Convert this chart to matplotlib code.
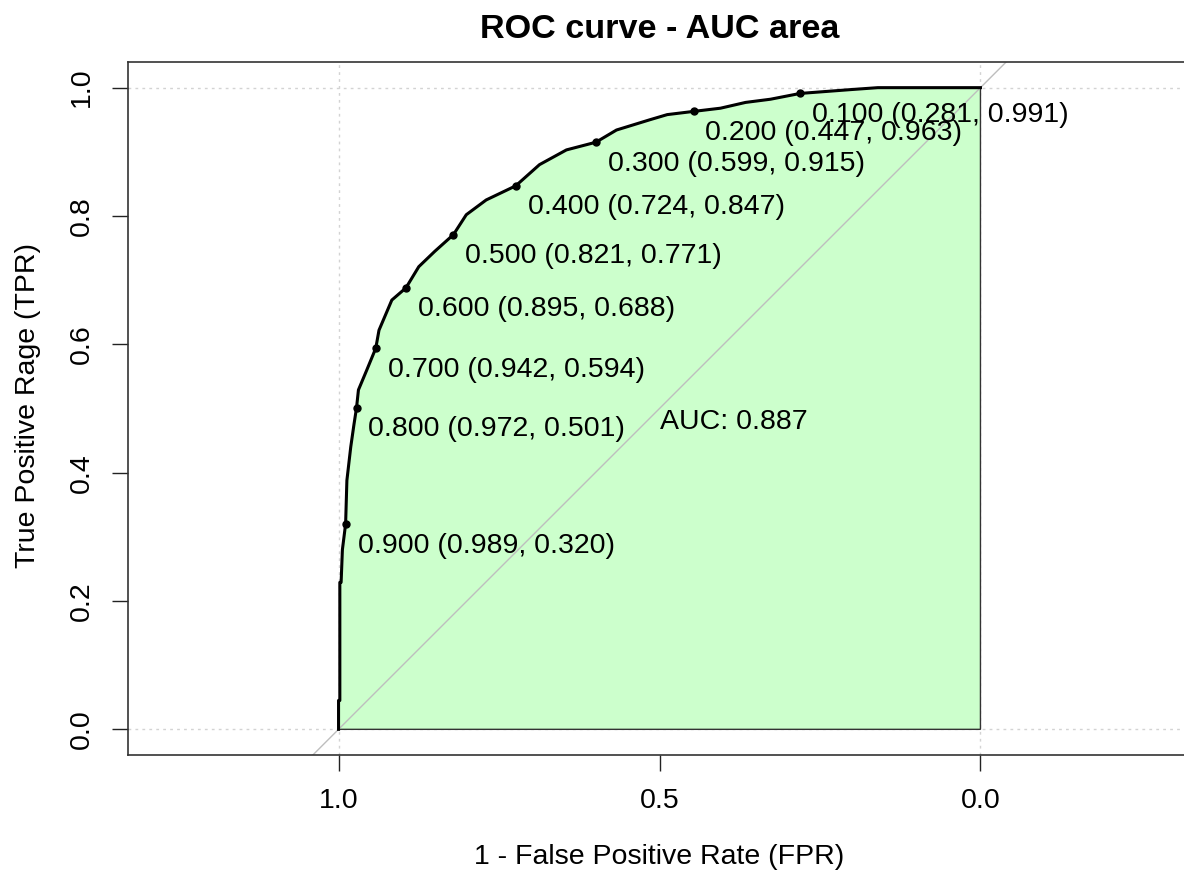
import matplotlib
matplotlib.use("Agg")
import matplotlib.pyplot as plt

plt.rcParams['font.family'] = ['Liberation Sans', 'DejaVu Sans']

# ROC curve (specificity, sensitivity)
curve_spec = [1.000, 1.000, 0.998, 0.998, 0.996, 0.994, 0.989, 0.987, 0.981, 0.976,
              0.972, 0.969, 0.956, 0.942, 0.937, 0.917, 0.895, 0.875, 0.850, 0.821,
              0.801, 0.770, 0.724, 0.687, 0.645, 0.599, 0.567, 0.515, 0.488, 0.447,
              0.405, 0.366, 0.327, 0.281, 0.202, 0.160, 0.000]
curve_sens = [0.000, 0.045, 0.045, 0.229, 0.229, 0.280, 0.320, 0.388, 0.440, 0.475,
              0.501, 0.529, 0.560, 0.594, 0.622, 0.669, 0.688, 0.721, 0.745, 0.771,
              0.802, 0.825, 0.847, 0.880, 0.903, 0.915, 0.934, 0.950, 0.958, 0.963,
              0.968, 0.977, 0.982, 0.991, 0.997, 1.000, 1.000]

# Printed thresholds
thresholds = [0.100, 0.200, 0.300, 0.400, 0.500, 0.600, 0.700, 0.800, 0.900]
thr_spec = [0.281, 0.447, 0.599, 0.724, 0.821, 0.895, 0.942, 0.972, 0.989]
thr_sens = [0.991, 0.963, 0.915, 0.847, 0.771, 0.688, 0.594, 0.501, 0.320]

auc_value = 0.887
x_ticks = [1.0, 0.5, 0.0]
x_ticklabels = ["1.0", "0.5", "0.0"]
y_ticks = [0.0, 0.2, 0.4, 0.6, 0.8, 1.0]
y_ticklabels = ["0.0", "0.2", "0.4", "0.6", "0.8", "1.0"]

W, H = 1184, 874
fig = plt.figure(figsize=(W / 100, H / 100), dpi=100)
ax = fig.add_axes([128 / W, 119 / H, 1063 / W, 693 / H])
ax.set_xlim(1.328, -0.328)
ax.set_ylim(-0.04, 1.04)

# grid
for g in [0.0, 1.0]:
    ax.axvline(g, color='#d3d3d3', lw=1, ls=(0, (2, 3)), zorder=0)
    ax.axhline(g, color='#d3d3d3', lw=1, ls=(0, (2, 3)), zorder=0)

# AUC polygon
poly_x = curve_spec + [0.0]
poly_y = curve_sens + [0.0]
ax.fill(poly_x, poly_y, facecolor='#ccffcc', edgecolor='#333333', lw=1, zorder=1)

# diagonal
ax.axline((1.0, 0.0), (0.0, 1.0), color='#bebebe', lw=1, zorder=2)

# curve
ax.plot(curve_spec, curve_sens, color='black', lw=2.2, zorder=3, solid_joinstyle='round')

# threshold points and labels
ax.plot(thr_spec, thr_sens, 'o', color='black', ms=5, zorder=4)
for t, sp, se in zip(thresholds, thr_spec, thr_sens):
    ax.annotate(f"{t:.3f} ({sp:.3f}, {se:.3f})", xy=(sp, se),
                xytext=(8.6, -15.5), textcoords='offset points',
                ha='left', va='center', fontsize=20.5, color='black', zorder=5)

ax.text(0.5, 0.5, f"AUC: {auc_value:.3f}", ha='left', va='top', fontsize=20.5,
        color='black', zorder=5)

ax.set_xticks(x_ticks)
ax.set_xticklabels(x_ticklabels)
ax.set_yticks(y_ticks)
ax.set_yticklabels(y_ticklabels, rotation=90, va='center')
ax.tick_params(axis='both', length=11.5, width=1, labelsize=20.5, colors='#222222',
               labelcolor='black')
ax.tick_params(axis='x', pad=12)
ax.tick_params(axis='y', pad=12)
for s in ax.spines.values():
    s.set_linewidth(1.2)
    s.set_color('#333333')

fig.text(659.5 / W, 1 - 30 / H, "ROC curve - AUC area", ha='center', va='center',
         fontsize=24.6, fontweight='bold')
fig.text(659.5 / W, 1 - 857 / H, "1 - False Positive Rate (FPR)", ha='center',
         va='center', fontsize=20.5)
fig.text(28 / W, 1 - 405 / H, "True Positive Rage (TPR)", ha='center', va='center',
         rotation=90, fontsize=20.5)

fig.savefig("out.png", dpi=100)
